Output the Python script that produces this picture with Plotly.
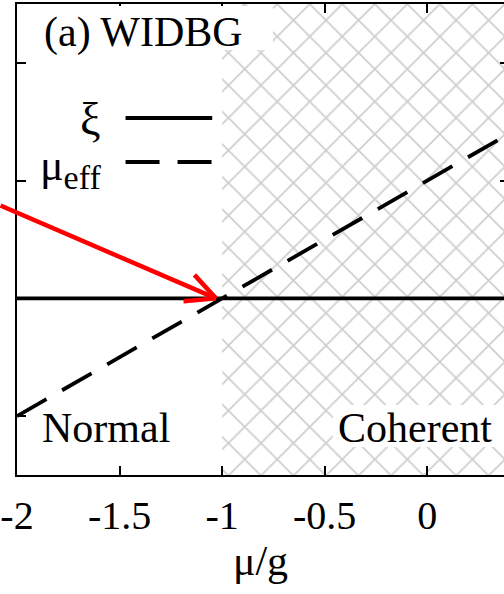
import plotly.graph_objects as go

# ---- data -------------------------------------------------------------
mu_over_g = [-2.0, 0.4]          # chemical potential mu/g
xi = [0.0, 0.0]                  # order parameter xi
mu_eff = [-1.0, 1.4]             # effective chemical potential
coherent_x = [-1.0, 0.4]         # coherent (hatched) region in mu/g
transition = (-1.03, 0.0)        # arrow tip at the transition point
x_tick_vals = [-2, -1.5, -1, -0.5, 0]
x_tick_text = ["-2", "-1.5", "-1", "-0.5", "0"]
y_tick_vals = [-1, 0, 1, 2]

# ---- geometry ---------------------------------------------------------
W, H = 504, 594
ML, MR, MT, MB = 15, 0, 4, 119
X_RANGE = [-2.0, 0.374]
Y_RANGE = [-1.5, 2.5]
FONT = "Liberation Serif"


def px(xp):
    """pixel x -> paper x"""
    return (xp - ML) / (W - ML - MR)


def py(yp):
    """pixel y (from top) -> paper y"""
    return (H - MB - yp) / (H - MT - MB)


fig = go.Figure()

# hatched coherent region
fig.add_trace(go.Scatter(
    x=[coherent_x[0], coherent_x[1], coherent_x[1], coherent_x[0], coherent_x[0]],
    y=[-3, -3, 4, 4, -3],
    fill="toself", mode="none", fillcolor="white",
    fillpattern=dict(shape="x", size=23, solidity=0.15,
                     fgcolor="#9e9e9e", bgcolor="white"),
    hoverinfo="skip", showlegend=False,
))

# xi (solid) and mu_eff (dashed)
fig.add_trace(go.Scatter(
    x=mu_over_g, y=xi, mode="lines", name="ξ",
    line=dict(color="black", width=3.8), showlegend=False,
))
fig.add_trace(go.Scatter(
    x=mu_over_g, y=mu_eff, mode="lines", name="μ_eff",
    line=dict(color="black", width=3.8, dash="34px,18px"), showlegend=False,
))

# helper trace carrying the right-hand tick marks
fig.add_trace(go.Scatter(x=[None], y=[None], yaxis="y2",
                         showlegend=False, hoverinfo="skip"))

shapes = [
    # white boxes behind the labels
    dict(type="rect", xref="paper", yref="paper", layer="above",
         x0=px(15), x1=px(272), y0=py(50), y1=py(6),
         fillcolor="white", line=dict(width=0)),
    dict(type="rect", xref="paper", yref="paper", layer="above",
         x0=px(332), x1=1, y0=py(447), y1=py(405),
         fillcolor="white", line=dict(width=0)),
    # legend samples
    dict(type="line", xref="paper", yref="paper", layer="above",
         x0=px(124), x1=px(211), y0=py(118), y1=py(118),
         line=dict(color="black", width=3.8)),
    dict(type="line", xref="paper", yref="paper", layer="above",
         x0=px(124), x1=px(211), y0=py(162), y1=py(162),
         line=dict(color="black", width=3.8, dash="34px,18px")),
]

big = dict(family=FONT, size=42, color="black")
annotations = [
    dict(text="(a) WIDBG", xref="paper", yref="paper", x=px(40), y=py(33),
         xanchor="left", yanchor="middle", showarrow=False, font=big),
    dict(text="ξ", xref="paper", yref="paper", x=px(101), y=py(120),
         xanchor="right", yanchor="middle", showarrow=False,
         font=dict(family=FONT, size=46, color="black")),
    dict(text="μ<sub><span style='font-size:34px'>eff</span></sub>",
         xref="paper", yref="paper", x=px(101), y=py(168),
         xanchor="right", yanchor="middle", showarrow=False,
         font=dict(family=FONT, size=44, color="black")),
    dict(text="Normal", xref="paper", yref="paper", x=px(38), y=py(428),
         xanchor="left", yanchor="middle", showarrow=False, font=big),
    dict(text="Coherent", xref="paper", yref="paper", x=px(335), y=py(428),
         xanchor="left", yanchor="middle", showarrow=False, font=big),
]

# red arrow pointing at the transition: shaft plus two open-head arms
for ax, ay in [(-226, -93), (-22, -24), (-33, 3)]:
    annotations.append(dict(
        x=transition[0], y=transition[1], xref="x", yref="y",
        ax=ax, ay=ay, text="", showarrow=True, arrowhead=0,
        arrowwidth=4.5, arrowcolor="red", standoff=0, startstandoff=0,
        font=dict(size=1), borderpad=0,
    ))

fig.update_layout(
    width=W, height=H,
    margin=dict(l=ML, r=MR, t=MT, b=MB, pad=0),
    paper_bgcolor="white", plot_bgcolor="white",
    font=dict(family=FONT, color="black"),
    shapes=shapes, annotations=annotations,
    xaxis=dict(
        range=X_RANGE, tickvals=x_tick_vals, ticktext=x_tick_text,
        ticks="inside", ticklen=9, tickwidth=1.5, tickcolor="black",
        showline=True, linewidth=2, linecolor="black", mirror="ticks",
        showgrid=False, zeroline=False,
        tickfont=dict(family=FONT, size=40, color="black"),
        ticklabelstandoff=4, ticklabeloverflow="allow",
        title=dict(text="μ/g", font=dict(family=FONT, size=42, color="black"),
                   standoff=4),
    ),
    yaxis=dict(
        range=Y_RANGE, tickvals=y_tick_vals, showticklabels=False,
        ticks="inside", ticklen=9, tickwidth=1.5, tickcolor="black",
        showline=True, linewidth=2, linecolor="black",
        showgrid=False, zeroline=False,
    ),
    yaxis2=dict(
        range=Y_RANGE, overlaying="y", side="right", tickvals=y_tick_vals,
        showticklabels=False, ticks="inside", ticklen=4, tickwidth=1.5,
        tickcolor="black", showline=False, showgrid=False, zeroline=False,
    ),
    showlegend=False,
)

fig.write_html("out.html")
